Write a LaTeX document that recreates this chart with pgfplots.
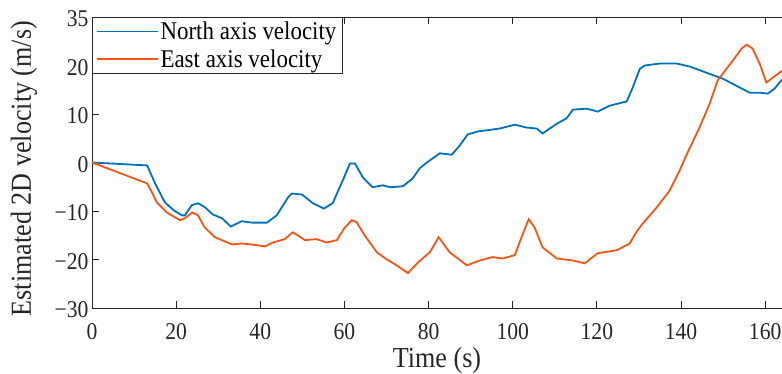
\documentclass[border=0pt]{standalone}
\usepackage{fontspec}
\setmainfont{Liberation Serif}[FakeStretch=0.9]
\usepackage{pgfplots}
\pgfplotsset{compat=1.18}
\definecolor{mblue}{RGB}{0,114,189}
\definecolor{morange}{RGB}{245,85,20}
\definecolor{axgray}{RGB}{38,38,38}
\begin{document}
\begin{tikzpicture}
\useasboundingbox (-92pt,-66pt) rectangle (690pt,308pt);
\begin{axis}[
  scale only axis,
  width=690pt, height=291pt,
  xmin=0, xmax=164, ymin=-30, ymax=30,
  axis x line*=box, axis y line*=left,
  xtick={0,20,...,160},
  ytick={-30,-20,-10,0,10,20,30},
  yticklabels={\textminus30,\textminus20,\textminus10,0,10,20,35},
  /pgf/number format/assume math mode=true,
  tick label style={font=\fontsize{24}{26}\selectfont, text=axgray},
  xticklabel style={anchor=base, yshift=-32pt},
  yticklabel style={yshift=-2pt},
  label style={font=\fontsize{29}{32}\selectfont, text=axgray},
  xlabel={Time (s)},
  ylabel={Estimated 2D velocity (m/s)},
  xlabel style={at={(axis description cs:0.5,0)}, anchor=base, yshift=-60pt},
  ylabel style={at={(axis description cs:-0.0986,0.479)}, anchor=center},
  axis line style={axgray, line width=0.8pt},
  tick style={axgray, line width=0.8pt},
  major tick length=7pt,
  tick align=inside,
  legend style={at={(0,1)}, anchor=north west, draw=axgray, line width=0.8pt,
    font=\fontsize{25.5}{27}\selectfont, inner xsep=4pt, inner ysep=2.5pt,
    row sep=4.5pt, cells={anchor=west}},
  legend image code/.code={\draw[#1, line width=1.8pt] (0cm,0cm) -- (2.12cm,0cm);},
]
\addplot[mblue, line width=1.8pt] coordinates {
(0,0) (13.1,-0.6) (15,-4.3) (17.3,-8.2) (19.5,-9.9) (21.4,-10.9) (22.1,-10.9) (23.7,-8.8) (25.2,-8.4) (26.8,-9.2) (28.7,-10.7) (30.9,-11.5) (33,-13.2) (35.6,-12.1) (38,-12.4) (41.6,-12.4) (43.9,-10.9) (46.6,-7.2) (47.5,-6.4) (49.9,-6.6) (52.5,-8.4) (55.1,-9.5) (57.2,-8.4) (59.6,-3.7) (61.3,-0.2) (62.5,-0.2) (64.4,-3.1) (66.7,-5.1) (69.1,-4.7) (70.8,-5.1) (73.9,-4.9) (76.2,-3.3) (77.9,-1.2) (79.6,0) (82.7,1.9) (85.5,1.6) (87.4,3.5) (89.3,5.8) (91.7,6.4) (96.9,7.0) (100.5,7.8) (103.3,7.2) (105.7,7.0) (107.1,6.0) (110.5,8.0) (112.8,9.1) (114.3,10.9) (117.6,11.1) (120.2,10.5) (123,11.7) (127.1,12.6) (128.5,15.4) (130.2,19.3) (131.4,20.0) (134.9,20.4) (139,20.4) (142,19.8) (146.1,18.5) (149.9,17.3) (153.2,15.8) (156.3,14.4) (158.7,14.4) (160.6,14.2) (162.2,15.2) (164,17.1)
};
\addlegendentry{North axis velocity}
\addplot[morange, line width=1.8pt] coordinates {
(0,0) (13.1,-4.3) (14.3,-6.2) (15.4,-8.2) (17.8,-10.3) (20.9,-11.9) (22.1,-11.5) (23.8,-10.3) (25.2,-10.9) (26.8,-13.4) (29.2,-15.4) (33.3,-16.9) (35.6,-16.7) (38,-16.9) (41.1,-17.3) (43,-16.5) (45.8,-15.8) (47.7,-14.4) (48.9,-15.0) (50.6,-16.0) (53.4,-15.8) (55.8,-16.5) (58.2,-16.0) (60.1,-13.4) (61.8,-11.9) (62.9,-12.3) (64.8,-15.0) (67.7,-18.5) (70.1,-20.0) (72.4,-21.2) (75.1,-22.8) (77.5,-20.6) (80.3,-18.5) (82.4,-15.4) (85,-18.5) (89.1,-21.2) (92.2,-20.2) (95.2,-19.5) (97.6,-19.8) (100.5,-19.1) (102.1,-15.4) (103.8,-11.7) (105.2,-13.4) (107.1,-17.5) (110.5,-19.8) (114.3,-20.2) (117.1,-20.8) (120.2,-18.7) (124.7,-18.1) (127.8,-16.7) (129.5,-14.2) (130.9,-12.6) (134.2,-9.3) (137.3,-5.8) (139.7,-1.6) (141.6,2.1) (144.4,7.2) (146.8,12.1) (148.7,16.9) (150.8,19.3) (152.3,21.0) (154.4,23.5) (155.6,24.3) (157,23.5) (158.7,20.4) (160.3,16.5) (161.8,17.5) (164,18.9)
};
\addlegendentry{East axis velocity}
\end{axis}
\end{tikzpicture}
\end{document}
